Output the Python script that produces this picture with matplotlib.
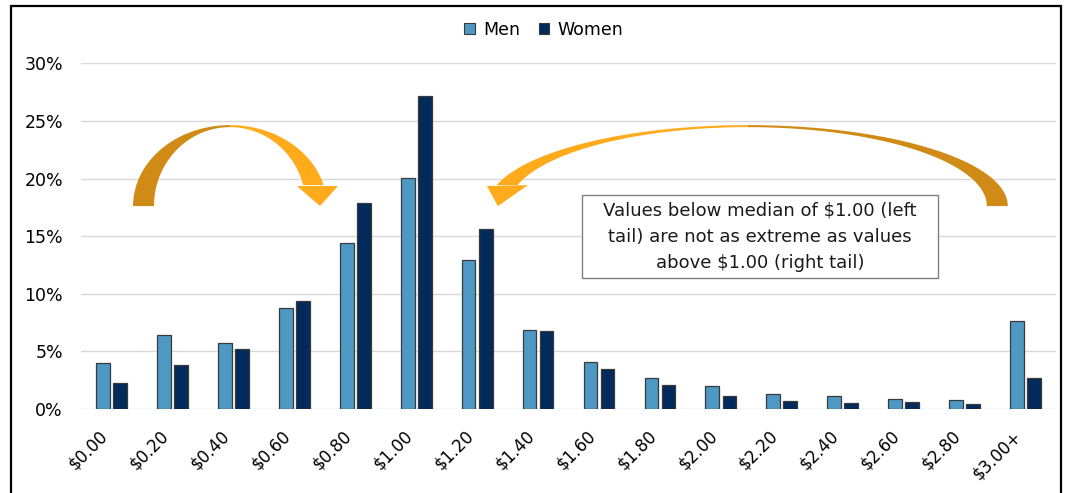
import numpy as np
import matplotlib
matplotlib.use("Agg")
import matplotlib.pyplot as plt
from matplotlib.patches import Polygon, Rectangle, Patch

# share of respondents per price bucket (%)
buckets = ["$0.00", "$0.20", "$0.40", "$0.60", "$0.80", "$1.00", "$1.20", "$1.40",
           "$1.60", "$1.80", "$2.00", "$2.20", "$2.40", "$2.60", "$2.80", "$3.00+"]
men = [4.0, 6.4, 5.7, 8.8, 14.4, 20.1, 12.9, 6.9, 4.1, 2.7, 2.0, 1.3, 1.1, 0.9, 0.8, 7.6]
women = [2.3, 3.8, 5.2, 9.4, 17.9, 27.2, 15.6, 6.8, 3.5, 2.1, 1.1, 0.7, 0.5, 0.6, 0.4, 2.7]
yticks = [0, 5, 10, 15, 20, 25, 30]

note = ("Values below median of \\$1.00 (left\n"
        "tail) are not as extreme as values\n"
        "above \\$1.00 (right tail)")

MEN_C = "#4E98C4"
WOMEN_C = "#022B5B"
EDGE_C = "#3A3A3A"
ORANGE = "#FFAB1C"
ORANGE_DK = "#D08A16"

fig = plt.figure(figsize=(10.72, 4.93), dpi=100)
ax = fig.add_axes([0.0756, 0.1704, 0.9095, 0.7008])

x = np.arange(len(buckets))
w = 0.225
ax.bar(x - 0.14, men, w, color=MEN_C, edgecolor=EDGE_C, linewidth=0.9, zorder=3)
ax.bar(x + 0.14, women, w, color=WOMEN_C, edgecolor=EDGE_C, linewidth=0.9, zorder=3)

ax.set_xlim(-0.5, len(buckets) - 0.5)
ax.set_ylim(0, 30)
ax.set_yticks(yticks)
ax.set_yticklabels([f"{t}%" for t in yticks])
ax.set_xticks(x)
ax.set_xticklabels([b.replace("$", "\\$") for b in buckets], rotation=45, ha="right")
ax.tick_params(axis="both", length=0, labelsize=12, colors="#000000")
ax.tick_params(axis="y", pad=13, labelsize=12.5)
ax.tick_params(axis="x", pad=13)
ax.grid(axis="y", color="#D9D9D9", linewidth=1.0, zorder=0)
ax.set_axisbelow(True)
for s in ax.spines.values():
    s.set_visible(False)


def curved_arrow(ax, cx, cy, b, a_out, a_in, back_side, t_end, head, zorder=5):
    """Half-ellipse band: darker back half rising from the base, lighter
    front half coming down into a triangular head."""
    sgn = -1 if back_side == "left" else 1
    b_in = b * 0.975
    # inner angle where the front band ends level with the outer edge
    t_in_end = np.arcsin(min(1.0, b * np.sin(t_end) / b_in))

    def band(t_o, t_i):
        outer = np.c_[cx + sgn * a_out * np.cos(t_o), cy + b * np.sin(t_o)]
        inner = np.c_[cx + sgn * a_in * np.cos(t_i), cy + b_in * np.sin(t_i)]
        return np.vstack([outer, inner[::-1]])

    back = band(np.linspace(0, np.pi / 2, 80), np.linspace(0, np.pi / 2, 80))
    front = band(np.linspace(np.pi / 2, np.pi - t_end, 80),
                 np.linspace(np.pi / 2, np.pi - t_in_end, 80))
    patches = [Polygon(back, closed=True, facecolor=ORANGE_DK, edgecolor="none", zorder=zorder),
               Polygon(front, closed=True, facecolor=ORANGE, edgecolor="none", zorder=zorder),
               Polygon(head, closed=True, facecolor=ORANGE, edgecolor="none", zorder=zorder)]
    for p in patches:
        p.set_clip_on(False)
        ax.add_patch(p)


t_end = np.radians(15)
# left tail arrow: $0.20 over to $0.80
curved_arrow(ax, 1.944, 17.62, 7.03, 1.59, 1.247, "left", t_end,
             [(3.043, 19.36), (3.716, 19.36), (3.421, 17.62)])
# right tail arrow: $3.00+ back over to $1.20
curved_arrow(ax, 10.443, 17.62, 7.03, 4.266, 3.921, "right", t_end,
             [(6.16, 19.36), (6.833, 19.44), (6.341, 17.62)])

ax.add_patch(Rectangle((0.5138, 0.379), 0.3652, 0.240, transform=ax.transAxes,
                       facecolor="white", edgecolor="#808080", linewidth=1.0, zorder=6))
ax.text(0.6964, 0.499, note, transform=ax.transAxes, ha="center", va="center",
        fontsize=13, linespacing=1.6, color="#1A1A1A", zorder=7)

handles = [Patch(facecolor=MEN_C, edgecolor=EDGE_C, linewidth=0.8, label="Men"),
           Patch(facecolor=WOMEN_C, edgecolor=EDGE_C, linewidth=0.8, label="Women")]
fig.legend(handles=handles, loc="center", bbox_to_anchor=(544 / 1072, 1 - 30 / 493),
           ncol=2, frameon=False, fontsize=12.5, handlelength=0.6, handleheight=0.6,
           handletextpad=0.5, columnspacing=1.05)

# outer frame, open at the bottom edge
fig.add_artist(Rectangle((0.0103, -0.05), 0.9794, 1.0378, transform=fig.transFigure,
                         facecolor="none", edgecolor="black", linewidth=1.6))

fig.savefig("out.png", dpi=100, facecolor="white")
